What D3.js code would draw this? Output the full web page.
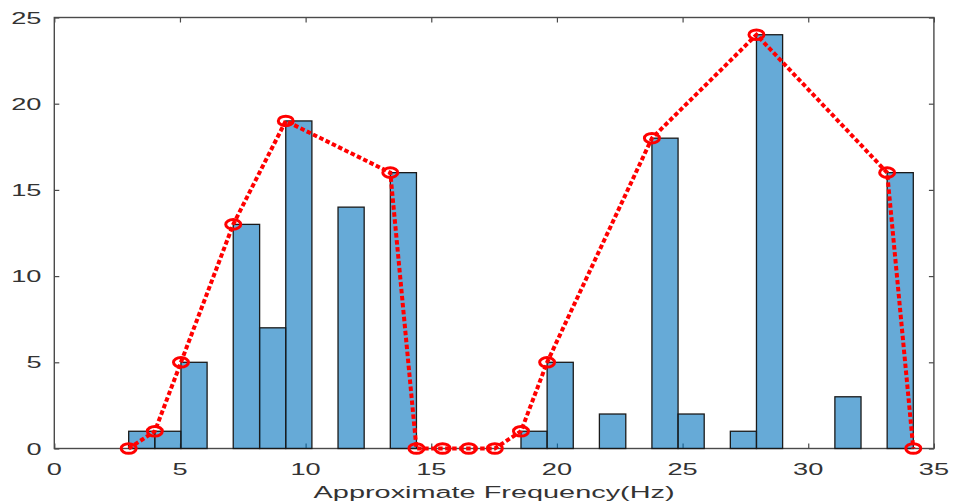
<!DOCTYPE html>
<html>
<head>
<meta charset="utf-8">
<script src="https://cdn.jsdelivr.net/npm/d3@7"></script>
<style>
  html, body { margin: 0; padding: 0; background: #fff; }
  svg { display: block; }
  text { font-family: "Liberation Sans", Arial, sans-serif; fill: #333; }
</style>
</head>
<body>
<svg id="chart" width="955" height="504"></svg>
<script>
// Histogram bin edges (Hz) and counts per bin
const binEdges = [2.96, 4.00, 5.04, 6.08, 7.12, 8.17, 9.21, 10.25, 11.29, 12.33,
                  13.37, 14.41, 15.45, 16.49, 17.53, 18.57, 19.61, 20.65, 21.69, 22.74,
                  23.78, 24.82, 25.86, 26.90, 27.94, 28.98, 30.02, 31.06, 32.10, 33.14, 34.18];
const binCounts = [1, 1, 5, 0, 13, 7, 19, 0, 14, 0,
                   16, 0, 0, 0, 0, 1, 5, 0, 2, 0,
                   18, 2, 0, 1, 24, 0, 0, 3, 0, 16];

// Envelope line through the bin peaks
const envX = [2.96, 4.00, 5.04, 7.12, 9.21, 13.37, 14.41, 15.45, 16.49, 17.53,
              18.57, 19.61, 23.78, 27.94, 33.14, 34.18];
const envY = [0, 1, 5, 13, 19, 16, 0, 0, 0, 0,
              1, 5, 18, 24, 16, 0];

const xTicks = [0, 5, 10, 15, 20, 25, 30, 35];
const yTicks = [0, 5, 10, 15, 20, 25];
const xLabel = "Approximate Frequency(Hz)";

const svg = d3.select("#chart");
const plotL = 54.3, plotR = 933.9, plotT = 17.5, plotB = 448.5;
const stretch = 1.7;   // wide lettering
const axisColor = "#4a4a4a";

const x = d3.scaleLinear().domain([0, 35]).range([plotL, plotR]);
const y = d3.scaleLinear().domain([0, 25]).range([plotB, plotT]);

// Axes box with inward ticks on all four sides
const axisG = svg.append("g");
const tickLen = 5;
const bottomAxis = d3.axisBottom(x).tickValues(xTicks).tickSize(-tickLen).tickFormat("");
const topAxis = d3.axisTop(x).tickValues(xTicks).tickSize(-tickLen).tickFormat("");
const leftAxis = d3.axisLeft(y).tickValues(yTicks).tickSize(-tickLen).tickFormat("");
const rightAxis = d3.axisRight(y).tickValues(yTicks).tickSize(-tickLen).tickFormat("");

axisG.append("g").attr("transform", `translate(0,${plotB})`).call(bottomAxis);
axisG.append("g").attr("transform", `translate(0,${plotT})`).call(topAxis);
axisG.append("g").attr("transform", `translate(${plotL},0)`).call(leftAxis);
axisG.append("g").attr("transform", `translate(${plotR},0)`).call(rightAxis);
axisG.selectAll(".domain").remove();
axisG.selectAll(".tick line").attr("stroke", axisColor).attr("stroke-width", 1.2);
axisG.append("rect")
  .attr("x", plotL).attr("y", plotT)
  .attr("width", plotR - plotL).attr("height", plotB - plotT)
  .attr("fill", "none").attr("stroke", axisColor).attr("stroke-width", 1.4);

// Histogram bars
const bins = binCounts.map((c, i) => ({ x0: binEdges[i], x1: binEdges[i + 1], c }))
  .filter(d => d.c > 0);
svg.append("g").selectAll("rect")
  .data(bins)
  .join("rect")
  .attr("x", d => x(d.x0))
  .attr("y", d => y(d.c))
  .attr("width", d => x(d.x1) - x(d.x0))
  .attr("height", d => y(0) - y(d.c))
  .attr("fill", "#0072BD")
  .attr("fill-opacity", 0.6)
  .attr("stroke", "#1a1a1a")
  .attr("stroke-width", 1.3);

// Dotted envelope line with circle markers
const pts = envX.map((v, i) => [v, envY[i]]);
const line = d3.line().x(d => x(d[0])).y(d => y(d[1]));
svg.append("path")
  .datum(pts)
  .attr("d", line)
  .attr("fill", "none")
  .attr("stroke", "#ff0000")
  .attr("stroke-width", 4)
  .attr("stroke-dasharray", "4.5,2.5");
svg.append("g").selectAll("ellipse")
  .data(pts)
  .join("ellipse")
  .attr("cx", d => x(d[0]))
  .attr("cy", d => y(d[1]))
  .attr("rx", 7.5)
  .attr("ry", 4.8)
  .attr("fill", "none")
  .attr("stroke", "#ff0000")
  .attr("stroke-width", 3);

// Tick labels
const labels = svg.append("g");
labels.selectAll("text.xt")
  .data(xTicks)
  .join("text")
  .attr("class", "xt")
  .attr("text-anchor", "middle")
  .attr("font-size", 16)
  .attr("transform", d => `translate(${x(d)},${475}) scale(${stretch},1)`)
  .text(d => d);
labels.selectAll("text.yt")
  .data(yTicks)
  .join("text")
  .attr("class", "yt")
  .attr("text-anchor", "end")
  .attr("font-size", 16)
  .attr("transform", d => `translate(${41.5},${y(d) + 6}) scale(${stretch},1)`)
  .text(d => d);

// Axis title
svg.append("text")
  .attr("text-anchor", "middle")
  .attr("font-size", 17)
  .attr("transform", `translate(${(plotL + plotR) / 2},${498}) scale(${stretch},1)`)
  .text(xLabel);
</script>
</body>
</html>
